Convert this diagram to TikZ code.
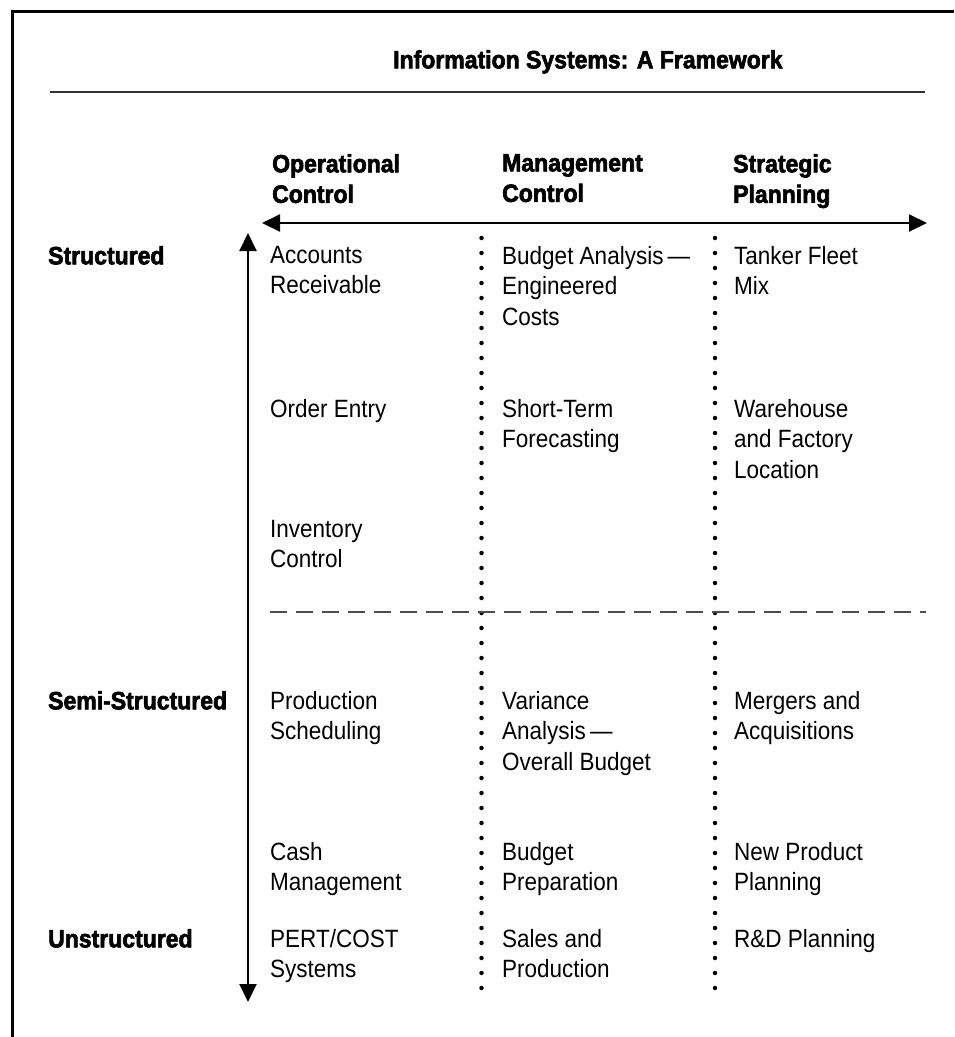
\documentclass[tikz,border=0pt]{standalone}
\usepackage{fontspec}
\usetikzlibrary{arrows.meta}
\newfontfamily\bodyfont[FakeStretch=0.9]{Liberation Sans}
\newfontfamily\headfont[FakeStretch=0.92,FakeBold=2.5]{Liberation Sans}
\begin{document}
\begin{tikzpicture}[x=1pt,y=-1pt,
  cell/.style={anchor=north west,inner sep=0pt,align=left,
    font=\bodyfont\fontsize{25}{30.5}\selectfont},
  head/.style={anchor=north west,inner sep=0pt,align=left,
    font=\headfont\bfseries\fontsize{25}{30.5}\selectfont},
  axis/.style={line width=2pt,{Triangle[length=18pt,width=17pt]}-{Triangle[length=18pt,width=17pt]}},
  divider/.style={line width=4.5pt,line cap=round,dash pattern=on 0pt off 15pt},
  split/.style={line width=2pt,black!70,dash pattern=on 17pt off 9pt}]
\useasboundingbox (0,0) rectangle (954,1037);
\fill[white] (0,0) rectangle (954,1037);

% frame and title rule
\draw[line width=3pt] (12.5,1037) -- (12.5,11) -- (954,11);
\node[head] (title) at (393,50) {Information Systems: A Framework};
\coordinate (ruleL) at (50,92);
\coordinate (ruleR) at (925,92);
\draw[line width=1.5pt,black!80] (ruleL) -- (ruleR);

% column headings
\node[head] (hOp) at (272,154) {Operational\\Control};
\node[head] (hMg) at (502,154) {Management\\Control};
\node[head] (hSt) at (733,154) {Strategic\\Planning};

% row headings
\node[head] (rS) at (48,246) {Structured};
\node[head] (rSS) at (48,691) {Semi-Structured};
\node[head] (rU) at (48,929) {Unstructured};

% axes
\coordinate (axL) at (262,223);
\coordinate (axR) at (927,223);
\coordinate (axT) at (248,233);
\coordinate (axB) at (248,1002);
\draw[axis] (axL) -- (axR);
\draw[axis] (axT) -- (axB);

% column dividers
\coordinate (d1T) at (481.5,238);
\coordinate (d1B) at (481.5,989);
\coordinate (d2T) at (715,238);
\coordinate (d2B) at (715,989);
\draw[divider] (d1T) -- (d1B);
\draw[divider] (d2T) -- (d2B);

% structured / semi-structured split
\coordinate (sL) at (270,612);
\coordinate (sR) at (926,612);
\draw[split] (sL) -- (sR);

% operational control
\node[cell] (o1) at (270,246) {Accounts\\Receivable};
\node[cell] (o2) at (270,399) {Order Entry};
\node[cell] (o3) at (270,520) {Inventory\\Control};
\node[cell] (o4) at (270,691) {Production\\Scheduling};
\node[cell] (o5) at (270,842) {Cash\\Management};
\node[cell] (o6) at (270,929) {PERT/COST\\Systems};

% management control
\node[cell] (m1) at (502,246) {Budget Analysis\,—\\Engineered\\Costs};
\node[cell] (m2) at (502,399) {Short-Term\\Forecasting};
\node[cell] (m4) at (502,691) {Variance\\Analysis\,—\\Overall Budget};
\node[cell] (m5) at (502,842) {Budget\\Preparation};
\node[cell] (m6) at (502,929) {Sales and\\Production};

% strategic planning
\node[cell] (s1) at (734,246) {Tanker Fleet\\Mix};
\node[cell] (s2) at (734,399) {Warehouse\\and Factory\\Location};
\node[cell] (s4) at (734,691) {Mergers and\\Acquisitions};
\node[cell] (s5) at (734,842) {New Product\\Planning};
\node[cell] (s6) at (734,929) {R\&D Planning};
\end{tikzpicture}
\end{document}
